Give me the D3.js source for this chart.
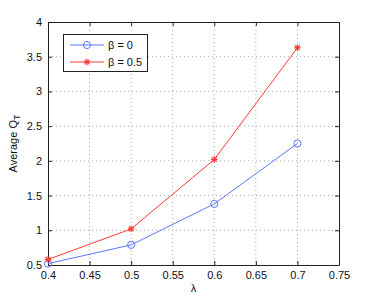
<!DOCTYPE html>
<html><head><meta charset="utf-8">
<script src="https://cdn.jsdelivr.net/npm/d3@7"></script>
<style>body{margin:0;background:#fff}svg{display:block}text{font-family:"Liberation Sans",Arial,sans-serif}</style>
</head><body>
<svg id="c" width="374" height="299"></svg>
<script>
const lambdas = [0.4, 0.5, 0.6, 0.7];
const beta0 = [0.52, 0.79, 1.38, 2.25];
const beta05 = [0.58, 1.02, 2.02, 3.63];
const xTicks = [0.4, 0.45, 0.5, 0.55, 0.6, 0.65, 0.7, 0.75];
const yTicks = [0.5, 1, 1.5, 2, 2.5, 3, 3.5, 4];
const seriesNames = ["β = 0", "β = 0.5"];

const svg = d3.select("#c");
const L = 48, R = 339, T = 22, B = 265;
const x = d3.scaleLinear().domain([0.4, 0.75]).range([L, R]);
const y = d3.scaleLinear().domain([0.5, 4]).range([B, T]);
const fmt = d => String(d);

// grid
const g = svg.append("g");
g.selectAll(".vg").data(xTicks.slice(1, -1)).join("line")
  .attr("x1", d => x(d)).attr("x2", d => x(d)).attr("y1", T).attr("y2", B)
  .attr("stroke", "#aaa").attr("stroke-width", 1).attr("stroke-dasharray", "1,3");
g.selectAll(".hg").data(yTicks.slice(1, -1)).join("line")
  .attr("y1", d => y(d)).attr("y2", d => y(d)).attr("x1", L).attr("x2", R)
  .attr("stroke", "#aaa").attr("stroke-width", 1).attr("stroke-dasharray", "1,3");

// axes
const ax = svg.append("g").attr("transform", `translate(0,${B})`)
  .call(d3.axisBottom(x).tickValues(xTicks).tickFormat(fmt).tickSizeInner(-4).tickSizeOuter(0).tickPadding(6));
const axT = svg.append("g").attr("transform", `translate(0,${T})`)
  .call(d3.axisTop(x).tickValues(xTicks).tickFormat("").tickSizeInner(-4).tickSizeOuter(0));
const ay = svg.append("g").attr("transform", `translate(${L},0)`)
  .call(d3.axisLeft(y).tickValues(yTicks).tickFormat(fmt).tickSizeInner(-4).tickSizeOuter(0).tickPadding(6));
const ayR = svg.append("g").attr("transform", `translate(${R},0)`)
  .call(d3.axisRight(y).tickValues(yTicks).tickFormat("").tickSizeInner(-4).tickSizeOuter(0));
[ax, axT, ay, ayR].forEach(a => {
  a.select(".domain").attr("stroke", "#222");
  a.selectAll(".tick line").attr("stroke", "#222");
  a.selectAll("text").attr("font-size", 11).attr("fill", "#111");
});

// lines
const line = d3.line().x((d, i) => x(lambdas[i])).y(d => y(d));
const blue = "#5a78ff", red = "#ff3a3a";
svg.append("path").datum(beta0).attr("d", line).attr("fill", "none").attr("stroke", blue).attr("stroke-width", 1);
svg.append("path").datum(beta05).attr("d", line).attr("fill", "none").attr("stroke", red).attr("stroke-width", 1);

function circleMarker(sel, cx, cy) {
  sel.append("circle").attr("cx", cx).attr("cy", cy).attr("r", 3.6)
    .attr("fill", "none").attr("stroke", blue).attr("stroke-width", 1);
}
function starMarker(sel, cx, cy) {
  const s = 3.2;
  const gS = sel.append("g").attr("stroke", red).attr("stroke-width", 1.2);
  gS.append("line").attr("x1", cx - s).attr("x2", cx + s).attr("y1", cy).attr("y2", cy);
  gS.append("line").attr("x1", cx).attr("x2", cx).attr("y1", cy - s).attr("y2", cy + s);
  gS.append("line").attr("x1", cx - s * 0.75).attr("x2", cx + s * 0.75).attr("y1", cy - s * 0.75).attr("y2", cy + s * 0.75);
  gS.append("line").attr("x1", cx - s * 0.75).attr("x2", cx + s * 0.75).attr("y1", cy + s * 0.75).attr("y2", cy - s * 0.75);
}
beta0.forEach((v, i) => circleMarker(svg, x(lambdas[i]), y(v)));
beta05.forEach((v, i) => starMarker(svg, x(lambdas[i]), y(v)));

// legend
const lg = svg.append("g");
lg.append("rect").attr("x", 63.5).attr("y", 34.5).attr("width", 84).attr("height", 37)
  .attr("fill", "#fff").attr("stroke", "#222").attr("stroke-width", 1);
const rows = [{c: blue, m: circleMarker, yy: 45}, {c: red, m: starMarker, yy: 62}];
rows.forEach((r, i) => {
  lg.append("line").attr("x1", 70).attr("x2", 104).attr("y1", r.yy).attr("y2", r.yy).attr("stroke", r.c);
  r.m(lg, 87, r.yy);
  lg.append("text").attr("x", 108).attr("y", r.yy + 4).attr("font-size", 11).attr("fill", "#111").text(seriesNames[i]);
});

// axis labels
svg.append("text").attr("x", x(0.575)).attr("y", 292).attr("text-anchor", "middle")
  .attr("font-size", 11).attr("fill", "#111").text("λ");
const yl = svg.append("text").attr("transform", `translate(17,${(T + B) / 2}) rotate(-90)`)
  .attr("text-anchor", "middle").attr("font-size", 11).attr("fill", "#111");
yl.append("tspan").text("Average Q");
yl.append("tspan").attr("font-size", 9).attr("dy", 3).text("T");
</script>
</body></html>
